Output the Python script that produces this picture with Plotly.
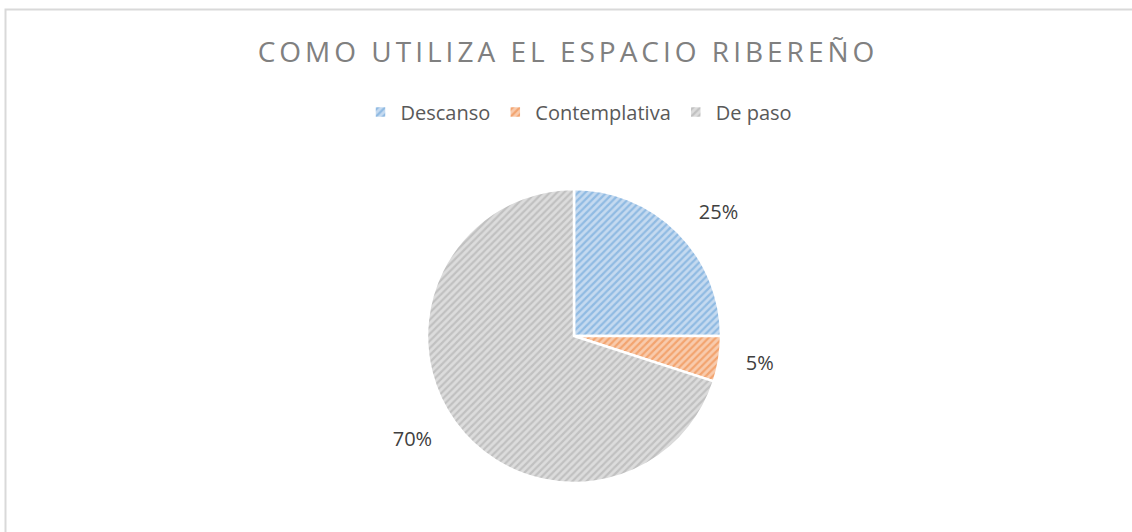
import plotly.graph_objects as go

# Survey answers: how the riverside space is used
categories = ["Descanso", "Contemplativa", "De paso"]
shares = [25, 5, 70]

fill_colors = ["#5B9BD5", "#ED7D31", "#A5A5A5"]
light_colors = ["#C5DAF0", "#F8CBAD", "#DCDCDC"]

W, H = 1132, 532
cx, cy, r = 574, 336, 147  # pie centre and radius in pixels
label_r = r + 20           # radius of the ring that carries the percentage labels

FONT = "Open Sans, Calibri, sans-serif"


def domain(radius):
    return dict(x=[(cx - radius) / W, (cx + radius) / W],
                y=[(H - cy - radius) / H, (H - cy + radius) / H])


fig = go.Figure()

# transparent ring: only places the percentage labels a bit outside the pie
fig.add_trace(go.Pie(
    labels=categories,
    values=shares,
    sort=False,
    direction="clockwise",
    rotation=0,
    texttemplate="%{percent:.0%}",
    textposition="outside",
    outsidetextfont=dict(family=FONT, size=20, color="#404040"),
    marker=dict(colors=["rgba(0,0,0,0)"] * 3, line=dict(width=0)),
    domain=domain(label_r),
    automargin=False,
    showlegend=False,
    hoverinfo="skip",
))

# the visible pie with hatched slices
fig.add_trace(go.Pie(
    labels=categories,
    values=shares,
    sort=False,
    direction="clockwise",
    rotation=0,
    textinfo="none",
    marker=dict(
        colors=light_colors,
        line=dict(color="white", width=2.5),
        pattern=dict(shape="/", fgcolor=fill_colors, bgcolor=light_colors,
                     size=5, solidity=0.45, fillmode="overlay"),
    ),
    domain=domain(r),
    automargin=False,
    hoverinfo="label+percent",
))

fig.update_layout(
    width=W, height=H,
    margin=dict(l=0, r=0, t=0, b=0),
    paper_bgcolor="white",
    plot_bgcolor="white",
    title=dict(
        text='<span style="letter-spacing:4px">COMO UTILIZA EL ESPACIO RIBEREÑO</span>',
        x=568 / W, xanchor="center",
        y=1 - 52 / H, yanchor="middle",
        font=dict(family=FONT, size=28, color="#808080"),
    ),
    legend=dict(
        orientation="h",
        x=579 / W, xanchor="center",
        y=1 - 112 / H, yanchor="middle",
        font=dict(family=FONT, size=20, color="#595959"),
        itemwidth=30,
        traceorder="normal",
    ),
    shapes=[dict(
        type="rect", xref="paper", yref="paper",
        x0=5.5 / W, x1=1.02, y0=-0.02, y1=1 - 9.5 / H,
        line=dict(color="#D9D9D9", width=2),
        fillcolor="rgba(0,0,0,0)",
    )],
)

fig.write_html("out.html")
